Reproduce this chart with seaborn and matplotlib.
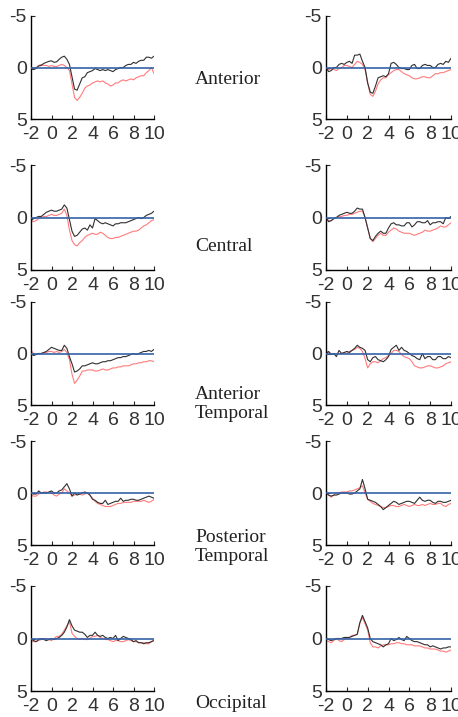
import matplotlib
matplotlib.use("Agg")
import matplotlib.pyplot as plt
import seaborn as sns
import numpy as np

# time axis (s), one sample every 0.25 s
t = np.linspace(-2, 10, 49)

regions = ["Anterior", "Central", "Anterior\nTemporal", "Posterior\nTemporal", "Occipital"]

# left column -------------------------------------------------------
ant_l_black = [0.15, 0.2, 0.1, -0.15, -0.2, -0.4, -0.5, -0.6, -0.65, -0.5, -0.55, -0.8,
               -1.0, -1.1, -0.8, -0.3, 0.9, 2.1, 2.2, 1.6, 1.0, 0.9, 0.5, 0.4,
               0.3, 0.1, 0.2, 0.3, 0.2, 0.3, 0.2, 0.3, 0.4, 0.2, 0.1, 0.0,
               0.0, -0.2, -0.3, -0.3, -0.5, -0.4, -0.6, -0.7, -0.7, -1.0, -1.0, -0.9, -1.1]
ant_l_red = [0.0, 0.1, 0.0, -0.2, -0.3, -0.2, -0.2, -0.1, -0.2, -0.1, -0.1, -0.2,
             -0.3, -0.2, 0.0, 0.3, 1.6, 2.9, 3.2, 2.9, 2.5, 2.0, 1.8, 1.7,
             1.5, 1.4, 1.3, 1.4, 1.3, 1.5, 1.6, 1.8, 1.7, 1.5, 1.5, 1.3,
             1.2, 1.3, 1.2, 1.1, 1.2, 1.0, 0.9, 0.8, 0.8, 0.5, 0.3, 0.0, 0.6]

cen_l_black = [0.3, 0.1, 0.0, -0.1, -0.1, -0.3, -0.5, -0.6, -0.7, -0.6, -0.6, -0.7,
               -0.8, -1.2, -0.9, 0.2, 1.3, 1.8, 1.7, 1.4, 1.1, 1.0, 1.2, 0.7,
               1.0, 0.1, 0.3, 0.5, 0.6, 0.5, 0.6, 0.7, 0.8, 0.6, 0.6, 0.5,
               0.5, 0.5, 0.4, 0.3, 0.2, 0.1, 0.0, 0.1, 0.0, -0.2, -0.3, -0.4, -0.6]
cen_l_red = [0.3, 0.4, 0.3, 0.1, 0.0, -0.1, -0.1, -0.2, -0.3, -0.2, -0.2, -0.3,
             -0.4, -0.8, -0.2, 1.2, 2.2, 2.6, 2.7, 2.4, 2.2, 1.9, 1.7, 1.6,
             1.5, 1.6, 1.6, 1.4, 1.5, 1.7, 1.9, 2.0, 2.0, 1.9, 1.9, 1.8,
             1.7, 1.6, 1.5, 1.4, 1.3, 1.3, 1.2, 1.0, 0.8, 0.7, 0.5, 0.3, 0.2]

atm_l_black = [0.0, 0.2, 0.1, 0.0, 0.0, -0.1, -0.2, -0.4, -0.6, -0.5, -0.4, -0.3,
               -0.3, -0.8, -0.5, 0.3, 1.0, 1.8, 1.7, 1.5, 1.2, 1.2, 1.1, 1.0,
               0.9, 1.0, 1.0, 0.9, 0.8, 0.8, 0.7, 0.7, 0.6, 0.5, 0.4, 0.4,
               0.3, 0.3, 0.2, 0.1, 0.0, 0.1, 0.0, -0.1, -0.2, -0.2, -0.3, -0.2, -0.4]
atm_l_red = [-0.3, 0.0, 0.1, 0.0, 0.0, -0.1, -0.1, -0.2, -0.2, -0.1, -0.2, -0.1,
             -0.2, -0.4, -0.1, 0.6, 2.0, 2.9, 2.6, 2.2, 1.7, 1.7, 1.6, 1.6,
             1.6, 1.7, 1.7, 1.6, 1.5, 1.6, 1.6, 1.5, 1.4, 1.4, 1.3, 1.3,
             1.2, 1.2, 1.2, 1.1, 1.0, 1.0, 0.9, 0.9, 0.8, 0.8, 0.7, 0.7, 0.8]

ptm_l_black = [0.0, 0.1, 0.1, -0.2, 0.0, 0.0, 0.0, -0.1, -0.2, 0.0, 0.0, -0.2,
               -0.3, -0.6, -0.9, -0.4, 0.3, 0.0, 0.2, 0.1, 0.0, -0.1, 0.0, 0.2,
               0.6, 0.7, 0.9, 1.0, 1.0, 0.7, 1.1, 1.0, 0.9, 0.8, 0.8, 0.5,
               0.8, 0.7, 0.7, 0.6, 0.6, 0.7, 0.7, 0.6, 0.5, 0.4, 0.3, 0.4, 0.5]
ptm_l_red = [0.2, 0.3, 0.3, 0.1, 0.0, -0.1, -0.1, 0.0, 0.0, 0.2, 0.3, 0.1,
             0.0, -0.4, -0.2, 0.0, 0.3, 0.2, 0.1, 0.1, 0.2, 0.1, 0.0, 0.2,
             0.5, 0.8, 1.0, 1.1, 1.2, 1.3, 1.3, 1.3, 1.2, 1.1, 1.0, 1.0,
             0.9, 0.9, 0.9, 0.9, 0.8, 0.8, 0.8, 0.8, 0.7, 0.8, 0.9, 0.8, 0.6]

occ_l_black = [0.0, 0.2, 0.3, 0.1, 0.0, 0.1, 0.2, 0.1, 0.0, 0.1, 0.0, -0.1,
               -0.3, -0.6, -1.1, -1.8, -1.2, -0.8, -0.7, -0.6, -0.6, -0.4, -0.1, -0.3,
               -0.3, -0.6, -0.3, -0.2, -0.3, -0.1, 0.0, -0.1, 0.0, -0.3, 0.2, 0.0,
               -0.2, -0.1, 0.0, 0.1, 0.3, 0.2, 0.4, 0.4, 0.5, 0.4, 0.4, 0.3, 0.2]
occ_l_red = [0.2, 0.3, 0.3, 0.2, 0.1, 0.0, 0.0, 0.1, 0.2, 0.0, -0.2, -0.2,
             -0.4, -0.8, -1.2, -1.6, -0.5, -0.2, 0.0, 0.1, 0.0, 0.1, 0.1, 0.0,
             -0.2, -0.2, -0.3, -0.1, 0.0, 0.1, 0.1, 0.2, 0.3, 0.2, 0.2, 0.3,
             0.3, 0.2, 0.1, 0.2, 0.3, 0.3, 0.4, 0.4, 0.4, 0.5, 0.5, 0.3, 0.1]

# right column ------------------------------------------------------
ant_r_black = [0.0, 0.4, 0.3, 0.0, 0.0, -0.3, -0.4, -0.3, -0.5, -0.6, -0.4, -1.2,
               -1.2, -1.3, -0.6, 0.0, 1.5, 2.4, 2.5, 1.8, 1.0, 0.9, 0.8, 0.9,
               0.6, -0.4, -0.5, -0.3, 0.0, 0.1, 0.1, 0.2, 0.2, -0.2, -0.3, 0.1,
               0.1, -0.2, -0.3, -0.2, -0.2, 0.0, 0.0, -0.3, -0.4, -0.3, -0.6, -0.5, -0.9]
ant_r_red = [0.0, 0.2, 0.1, 0.2, 0.3, 0.1, 0.0, -0.2, -0.2, -0.1, 0.0, -0.3,
             -0.6, -0.5, -0.3, 0.2, 1.5, 2.6, 2.8, 2.3, 1.6, 1.2, 1.0, 1.0,
             0.7, 0.5, 0.3, 0.2, 0.2, 0.4, 0.6, 0.7, 0.8, 1.0, 1.1, 1.1,
             1.0, 0.9, 0.9, 1.0, 1.0, 0.8, 0.6, 0.6, 0.5, 0.5, 0.4, 0.3, 0.2]

cen_r_black = [0.0, 0.4, 0.3, 0.1, 0.0, -0.2, -0.3, -0.4, -0.5, -0.4, -0.4, -0.6,
               -0.9, -0.8, -0.8, 0.0, 1.0, 2.0, 2.2, 1.8, 1.5, 1.3, 1.5, 1.5,
               1.0, 0.6, 0.5, 0.7, 0.7, 0.8, 0.8, 0.5, 0.5, 0.9, 0.7, 0.4,
               0.4, 0.5, 0.5, 0.3, 0.7, 0.5, 0.5, 0.4, 0.4, 0.6, 0.0, 0.1, -0.1]
cen_r_red = [0.0, 0.3, 0.3, 0.1, 0.0, -0.1, -0.1, -0.2, -0.2, -0.3, -0.3, -0.4,
             -0.5, -0.6, -0.6, 0.0, 1.0, 2.0, 2.3, 2.0, 1.7, 1.5, 1.7, 1.7,
             1.4, 1.2, 1.0, 1.1, 1.3, 1.4, 1.5, 1.5, 1.5, 1.6, 1.7, 1.6,
             1.5, 1.4, 1.2, 1.3, 1.3, 1.2, 1.1, 1.0, 0.8, 0.9, 0.9, 0.7, 0.5]

atm_r_black = [0.0, -0.2, 0.1, 0.0, 0.3, -0.3, 0.0, -0.1, -0.2, -0.1, -0.3, -0.5,
               -0.8, -0.6, -0.5, -0.3, 0.6, 0.8, 0.4, 0.3, 0.6, 0.7, 0.8, 0.6,
               0.3, -0.4, -0.6, -0.8, -0.3, -0.6, -0.3, -0.2, 0.0, 0.2, 0.3, 0.5,
               0.6, 0.0, 0.5, 0.3, 0.3, 0.6, 0.6, 0.3, 0.3, 0.5, 0.5, 0.3, 0.4]
atm_r_red = [-0.2, -0.1, 0.0, 0.1, 0.0, 0.0, 0.0, -0.1, 0.0, -0.2, -0.3, -0.4,
             -0.6, -0.5, -0.2, 0.5, 1.4, 1.0, 0.8, 0.8, 0.9, 0.7, 0.5, 0.4,
             0.2, 0.0, -0.3, -0.3, -0.2, 0.1, 0.3, 0.4, 0.5, 0.8, 1.2, 1.3,
             1.4, 1.4, 1.3, 1.2, 1.2, 1.3, 1.4, 1.4, 1.3, 1.2, 1.0, 0.9, 0.8]

ptm_r_black = [0.0, 0.2, 0.3, 0.2, 0.2, 0.1, 0.0, 0.0, 0.0, 0.1, 0.1, 0.0,
               -0.2, -0.4, -1.3, -0.4, 0.6, 0.7, 0.8, 0.9, 1.1, 1.3, 1.6, 1.4,
               1.2, 1.0, 0.8, 0.9, 1.1, 1.0, 0.9, 0.8, 0.8, 0.9, 1.0, 0.7,
               0.4, 0.7, 0.8, 0.7, 0.7, 0.9, 1.0, 0.8, 0.8, 0.9, 0.9, 0.8, 0.7]
ptm_r_red = [-0.2, 0.2, 0.4, 0.2, 0.0, 0.0, -0.1, -0.1, -0.1, -0.2, -0.2, -0.3,
             -0.4, -0.5, -0.7, 0.0, 0.6, 0.8, 1.0, 1.1, 1.2, 1.3, 1.4, 1.4,
             1.3, 1.2, 1.2, 1.3, 1.3, 1.2, 1.1, 1.2, 1.3, 1.2, 1.1, 1.2,
             1.2, 1.1, 1.2, 1.1, 1.0, 1.1, 1.1, 1.0, 1.0, 1.2, 1.3, 1.1, 1.0]

occ_r_black = [0.0, 0.1, 0.2, 0.1, 0.0, 0.0, 0.0, -0.1, -0.1, -0.1, -0.2, -0.3,
               -0.4, -1.5, -2.2, -1.6, -1.0, 0.0, 0.3, 0.4, 0.5, 0.6, 0.8, 0.6,
               0.5, 0.0, 0.2, 0.1, -0.1, 0.1, 0.2, -0.2, 0.0, 0.2, 0.3, 0.3,
               0.4, 0.5, 0.6, 0.6, 0.8, 0.7, 0.8, 0.9, 1.0, 0.9, 0.9, 0.8, 0.8]
occ_r_red = [0.2, 0.3, 0.4, 0.2, 0.0, 0.2, 0.3, 0.1, 0.0, -0.1, -0.3, -0.3,
             -0.4, -1.5, -2.0, -1.4, -0.8, 0.4, 0.8, 0.8, 0.9, 0.7, 0.6, 0.6,
             0.6, 0.5, 0.5, 0.4, 0.4, 0.5, 0.5, 0.6, 0.6, 0.6, 0.7, 0.7,
             0.7, 0.8, 0.9, 0.9, 1.0, 1.0, 1.0, 1.1, 1.2, 1.2, 1.3, 1.2, 1.1]

left = [(ant_l_black, ant_l_red), (cen_l_black, cen_l_red), (atm_l_black, atm_l_red),
        (ptm_l_black, ptm_l_red), (occ_l_black, occ_l_red)]
right = [(ant_r_black, ant_r_red), (cen_r_black, cen_r_red), (atm_r_black, atm_r_red),
         (ptm_r_black, ptm_r_red), (occ_r_black, occ_r_red)]

xticks = [-2, 0, 2, 4, 6, 8, 10]
yticks = [-5, 0, 5]

sns.set_style("ticks")
plt.rcParams["font.family"] = ["Liberation Sans", "DejaVu Sans"]
plt.rcParams["axes.unicode_minus"] = False

W, H = 458, 717
fig = plt.figure(figsize=(W / 100, H / 100), dpi=100)

# axes boxes in pixels: (top, bottom) of each row
rows_px = [(16, 119), (165, 270), (302, 405), (441, 545), (586, 691)]
cols_px = [(31, 154), (326, 451)]
label_y = [80, 247, 404, 547, 703]


def draw(ax, black, red):
    sns.lineplot(x=t, y=red, ax=ax, color="#ff5050", lw=0.8, alpha=0.75)
    sns.lineplot(x=t, y=black, ax=ax, color="#303030", lw=0.8)
    ax.axhline(0, color="#3562a8", lw=1.2, zorder=5)
    ax.set_xlim(-2, 10)
    ax.set_ylim(5, -5)
    ax.set_xticks(xticks)
    ax.set_yticks(yticks)
    ax.set_xticklabels([str(v) for v in xticks])
    ax.set_yticklabels([str(v) for v in yticks])
    ax.tick_params(direction="in", length=3, width=0.8, labelsize=14,
                   labelcolor="#333333", pad=3)
    ax.tick_params(axis="x", pad=5)
    sns.despine(ax=ax)
    for s in ("left", "bottom"):
        ax.spines[s].set_color("black")
        ax.spines[s].set_linewidth(1.0)


for i, (top, bot) in enumerate(rows_px):
    for j, (x0, x1) in enumerate(cols_px):
        ax = fig.add_axes([x0 / W, 1 - bot / H, (x1 - x0) / W, (bot - top) / H])
        black, red = (left if j == 0 else right)[i]
        draw(ax, black, red)
    fig.text(195 / W, 1 - label_y[i] / H, regions[i], ha="left", va="center",
             family=["Liberation Serif", "DejaVu Serif"], fontsize=14,
             color="#222222", linespacing=1.2)

fig.savefig("out.png", dpi=100)
